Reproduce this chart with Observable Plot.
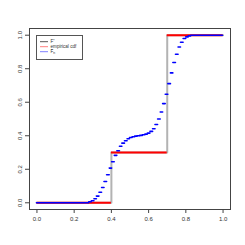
<!DOCTYPE html>
<html><head><meta charset="utf-8">
<script src="https://cdn.jsdelivr.net/npm/d3@7"></script>
<script src="https://cdn.jsdelivr.net/npm/@observablehq/plot@0.6"></script>
<style>body{margin:0;background:#fff;overflow:hidden}#c{position:relative;width:245px;height:245px}</style>
</head><body><div id="c"></div>
<script>
// F* : true step cdf (drawn as connected line)
const fStarX = [0, 0.4, 0.4, 0.7, 0.7, 1];
const fStarY = [0, 0, 0.3, 0.3, 1, 1];
// empirical cdf : horizontal steps
const ecdfX1 = [0, 0.4, 0.7];
const ecdfX2 = [0.4, 0.7, 1];
const ecdfY = [0, 0.3, 1];
// F-hat_n : step boundaries and levels
const fhatX = [0, 0.281, 0.295, 0.309, 0.322, 0.336, 0.350, 0.363, 0.377, 0.391, 0.404,
  0.418, 0.432, 0.446, 0.459, 0.473, 0.487, 0.500, 0.514, 0.528, 0.541,
  0.555, 0.569, 0.583, 0.596, 0.610, 0.624, 0.637, 0.651, 0.665, 0.678,
  0.692, 0.706, 0.720, 0.733, 0.747, 0.761, 0.774, 0.788, 0.802, 0.815, 0.829, 1.0];
const fhatY = [0, 0.006, 0.012, 0.024, 0.040, 0.063, 0.091, 0.127, 0.167, 0.207, 0.245,
  0.283, 0.311, 0.337, 0.356, 0.370, 0.382, 0.390, 0.394, 0.398, 0.400,
  0.402, 0.406, 0.410, 0.416, 0.426, 0.442, 0.467, 0.500, 0.542, 0.592,
  0.648, 0.711, 0.775, 0.837, 0.886, 0.930, 0.958, 0.980, 0.990, 0.996, 1.000];
const ticks = [0, 0.2, 0.4, 0.6, 0.8, 1.0];
const legendLabels = ["F*", "empirical cdf", "F̂n"];
const legendColors = ["#555555", "#ff8080", "#8080ff"];

const fStar = fStarX.map((x, i) => ({x, y: fStarY[i]}));
const ecdf = ecdfY.map((y, i) => ({x1: ecdfX1[i], x2: ecdfX2[i], y}));
const fhat = fhatY.map((y, i) => ({x1: fhatX[i], x2: fhatX[i + 1], y}));

const plot = Plot.plot({
  width: 245, height: 245,
  marginLeft: 29, marginRight: 15, marginTop: 28, marginBottom: 36,
  style: {fontFamily: "'Liberation Sans', Arial, sans-serif", fontSize: "6px", color: "#333", background: "#fff"},
  x: {domain: [-0.04, 1.04], ticks, tickFormat: d3.format(".1f"), label: null},
  y: {domain: [-0.04, 1.04], ticks, tickFormat: d3.format(".1f"), label: null},
  marks: [
    Plot.frame({stroke: "#444", strokeWidth: 1}),
    Plot.axisX({ticks, tickFormat: d3.format(".1f"), tickSize: 4, tickPadding: 3, stroke: "#444", fill: "#333"}),
    Plot.axisY({ticks, tickFormat: d3.format(".1f"), tickSize: 4, tickPadding: 4, tickRotate: -90, stroke: "#444", fill: "#333"}),
    Plot.line(fStar, {x: "x", y: "y", stroke: "#b3b3b3", strokeWidth: 2}),
    Plot.ruleY(ecdf, {x1: "x1", x2: "x2", y: "y", stroke: "#ff0000", strokeWidth: 2}),
    Plot.ruleY(fhat, {x1: "x1", x2: "x2", y: "y", stroke: "#0000ff", strokeWidth: 1.6, strokeLinecap: "round"})
  ]
});
document.getElementById("c").appendChild(plot);

// legend (box in the top-left of the panel)
const svg = d3.select(plot);
const g = svg.append("g").attr("font-family", "'Liberation Sans', Arial, sans-serif")
  .attr("font-size", 4.6).attr("fill", "#333").attr("text-anchor", "start");
g.append("rect").attr("x", 36.5).attr("y", 35.5).attr("width", 46).attr("height", 24)
  .attr("fill", "#fff").attr("stroke", "#555").attr("stroke-width", 1);
legendLabels.forEach((lab, i) => {
  const yy = 41.7 + i * 5;
  g.append("line").attr("x1", 40).attr("x2", 48).attr("y1", yy).attr("y2", yy)
    .attr("stroke", legendColors[i]).attr("stroke-width", 1);
  const t = g.append("text").attr("x", 50.5).attr("y", yy).attr("dy", "0.35em").attr("text-anchor", "start");
  if (i === 0) {
    t.append("tspan").text("F");
    t.append("tspan").attr("dy", "-0.3em").attr("font-size", 3.4).text("*");
  } else if (i === 2) {
    t.append("tspan").text("F̂");
    t.append("tspan").attr("dy", "0.3em").attr("font-size", 3.4).text("n");
  } else {
    t.text(lab);
  }
});
</script></body></html>
